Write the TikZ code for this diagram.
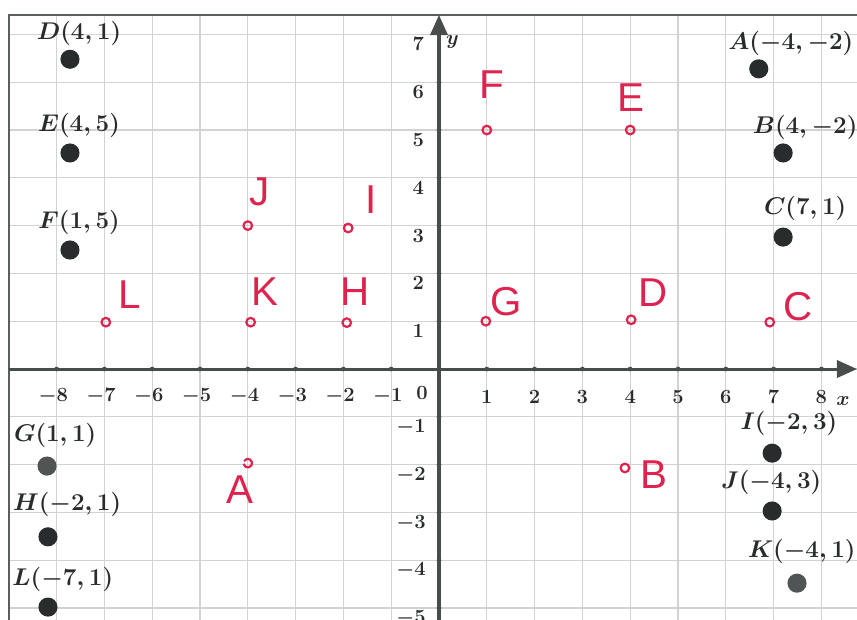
\documentclass[tikz,border=0pt]{standalone}
\usepackage{fontspec}
\newfontfamily\handfont{Liberation Sans}
\usetikzlibrary{arrows.meta}
\definecolor{handred}{RGB}{222,35,78}
\definecolor{axisgray}{RGB}{72,76,76}
\definecolor{dotdark}{RGB}{40,44,44}
\definecolor{dotgray}{RGB}{80,84,84}
\definecolor{gridgray}{RGB}{210,210,210}
\definecolor{bordergray}{RGB}{90,94,94}
\begin{document}
\begin{tikzpicture}[x=1cm,y=1cm,
  gridline/.style={draw=gridgray, line width=0.7pt},
  borderline/.style={draw=bordergray, line width=1.3pt},
  axisline/.style={draw=axisgray, line width=1.8pt},
  axistip/.style={-{Triangle[length=0.42cm,width=0.36cm]}},
  ticklabel/.style={font=\fontsize{12.5}{13}\selectfont\boldmath, text=dotdark, inner sep=0pt},
  ptlabel/.style={font=\fontsize{13.5}{14}\selectfont\boldmath, text=dotdark, inner sep=0pt},
  blackdot/.style={circle, fill=dotdark, minimum size=0.4cm, inner sep=0pt},
  graydot/.style={circle, fill=dotgray, minimum size=0.4cm, inner sep=0pt},
  redcirc/.style={circle, draw=handred, line width=1.3pt, minimum size=0.18cm, inner sep=0pt},
  hand/.style={font=\handfont\fontsize{24}{25}\selectfont, text=handred, inner sep=0pt}]
\useasboundingbox (-9.184,-5.230) rectangle (8.745,7.720);
\clip (-9.184,-5.230) rectangle (8.745,7.720);
% grid
\foreach \x in {-9,...,8} \draw[gridline] (\x,-5.3) -- (\x,7.406);
\foreach \y in {-5,...,7} \draw[gridline] (-9,\y) -- (8.8,\y);
% border
\coordinate (bl) at (-9.0,-5.3);
\coordinate (tl) at (-9.0,7.406);
\coordinate (tr) at (8.8,7.406);
\draw[borderline] (bl) -- (tl) -- (tr);
% axes
\coordinate (xs) at (-9,0);
\coordinate (xe) at (8.745,0);
\coordinate (ys) at (0,-5.3);
\coordinate (ye) at (0,7.406);
\draw[axisline,axistip] (xs) -- (xe);
\draw[axisline,axistip] (ys) -- (ye);
\foreach \x in {-8,...,-1,1,2,...,8} \fill[axisgray] (\x,0) circle (0.05);
\foreach \y in {-5,...,-1,1,2,...,6} \fill[axisgray] (0,\y) circle (0.05);
% tick labels
\foreach \x in {-8,...,-1} \node[ticklabel] (xl\x) at (\x-0.07,-0.58) {$\x$};
\foreach \x in {1,...,8} \node[ticklabel] (xl\x) at (\x,-0.58) {$\x$};
\node[ticklabel] (zero) at (-0.356,-0.50) {$0$};
\foreach \y in {1,...,7} \node[ticklabel,anchor=east] (yl\y) at (-0.31,\y-0.21) {$\y$};
\foreach \y in {-5,...,-1} \node[ticklabel,anchor=east] (yl\y) at (-0.27,\y-0.22) {$\y$};
\node[ticklabel] (yname) at (0.28,6.84) {$y$};
\node[ticklabel] (xname) at (8.45,-0.66) {$x$};
% black dots with labels
\node[ptlabel] (tD) at (-7.53,7.03) {$D(4,1)$};
\node[blackdot] (dD) at (-7.72,6.48) {};
\node[ptlabel] (tE) at (-7.53,5.10) {$E(4,5)$};
\node[blackdot] (dE) at (-7.72,4.52) {};
\node[ptlabel] (tF) at (-7.53,3.07) {$F(1,5)$};
\node[blackdot] (dF) at (-7.72,2.49) {};
\node[ptlabel] (tA) at (7.36,6.82) {$A(-4,-2)$};
\node[blackdot] (dA) at (6.69,6.28) {};
\node[ptlabel] (tB) at (7.66,5.06) {$B(4,-2)$};
\node[blackdot] (dB) at (7.20,4.52) {};
\node[ptlabel] (tC) at (7.66,3.35) {$C(7,1)$};
\node[blackdot] (dC) at (7.20,2.76) {};
\node[ptlabel] (tG) at (-8.03,-1.38) {$G(1,1)$};
\node[graydot] (dG) at (-8.20,-2.03) {};
\node[ptlabel] (tH) at (-7.78,-2.84) {$H(-2,1)$};
\node[blackdot] (dH) at (-8.18,-3.51) {};
\node[ptlabel] (tL) at (-7.87,-4.41) {$L(-7,1)$};
\node[blackdot] (dL) at (-8.18,-4.98) {};
\node[ptlabel] (tI) at (7.32,-1.14) {$I(-2,3)$};
\node[blackdot] (dI) at (6.97,-1.76) {};
\node[ptlabel] (tJ) at (6.95,-2.38) {$J(-4,3)$};
\node[blackdot] (dJ) at (6.97,-2.97) {};
\node[ptlabel] (tK) at (7.59,-3.82) {$K(-4,1)$};
\node[graydot] (dK) at (7.49,-4.48) {};
% red hand marks
\node[redcirc] (cF) at (1,5) {};
\node[hand] (hF) at (1.11,5.94) {F};
\node[redcirc] (cE) at (4,5) {};
\node[hand] (hE) at (4.02,5.67) {E};
\node[redcirc] (cJ) at (-4,3) {};
\node[hand] (hJ) at (-3.75,3.70) {J};
\node[redcirc] (cI) at (-1.9,2.95) {};
\node[hand] (hI) at (-1.42,3.54) {I};
\node[redcirc] (cL) at (-6.97,0.98) {};
\node[hand] (hL) at (-6.46,1.55) {L};
\node[redcirc] (cK) at (-3.94,0.98) {};
\node[hand] (hK) at (-3.64,1.61) {K};
\node[redcirc] (cH) at (-1.93,0.97) {};
\node[hand] (hH) at (-1.76,1.61) {H};
\node[redcirc] (cG) at (0.98,1.0) {};
\node[hand] (hG) at (1.40,1.40) {G};
\node[redcirc] (cD) at (4.02,1.03) {};
\node[hand] (hD) at (4.48,1.59) {D};
\node[redcirc] (cC) at (6.92,0.98) {};
\node[hand] (hC) at (7.51,1.30) {C};
\node[redcirc] (cB) at (3.89,-2.07) {};
\node[hand] (hB) at (4.50,-2.20) {B};
\coordinate (cA) at (-4.0,-1.97);
\draw[draw=handred, line width=1.3pt] (cA) ++(150:0.09) arc[start angle=150, end angle=-170, radius=0.09];
\node[hand] (hA) at (-4.16,-2.53) {A};
\end{tikzpicture}
\end{document}
